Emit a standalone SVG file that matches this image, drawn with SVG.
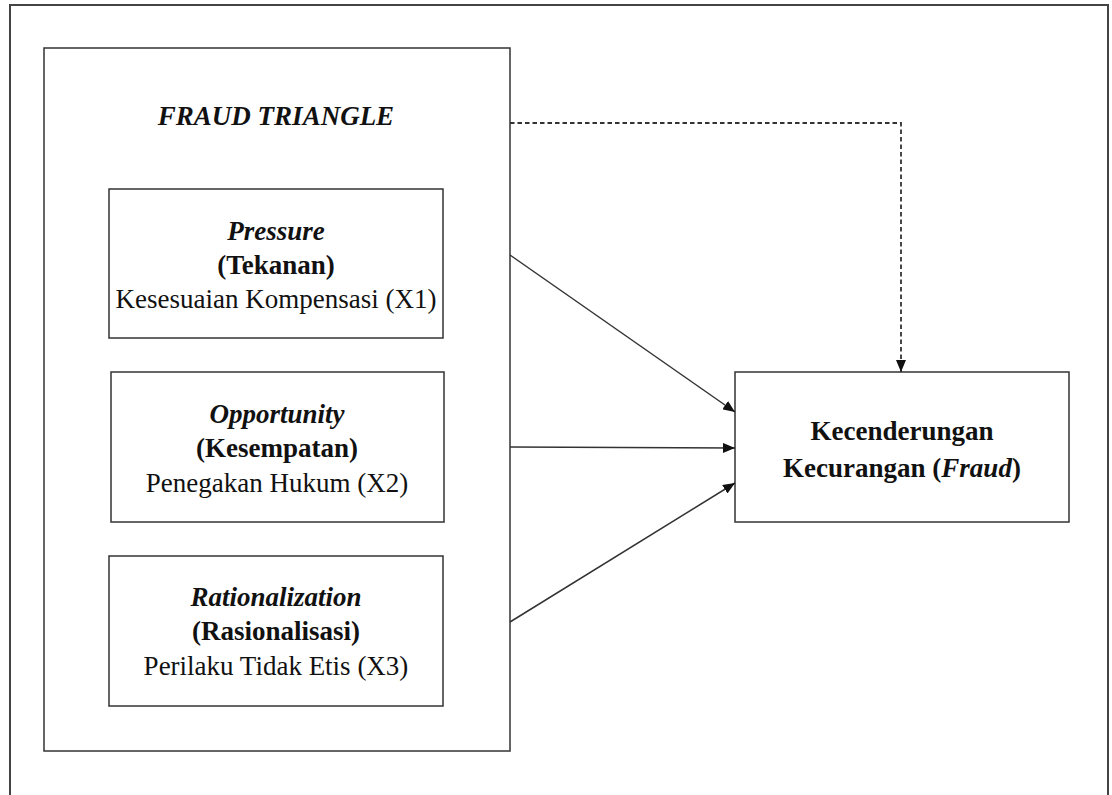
<svg xmlns="http://www.w3.org/2000/svg" width="1112" height="795" viewBox="0 0 1112 795">
<style>
.box{fill:#fff;stroke:#333;stroke-width:1.5}
.t{font-family:"Liberation Serif","Times New Roman",serif;font-size:27px;fill:#111;text-anchor:middle}
.b{font-weight:bold}
.i{font-style:italic}
.c{fill:none;stroke:#333;stroke-width:1.5}
.d{fill:none;stroke:#333;stroke-width:1.8;stroke-dasharray:4.5 3}
</style>
<defs>
<marker id="ah" markerWidth="12" markerHeight="10" refX="12" refY="5" orient="auto" markerUnits="userSpaceOnUse">
<path d="M0,0 L12,5 L0,10 Z" fill="#111"/>
</marker>
</defs>
<rect width="1112" height="795" fill="#fff"/>
<rect id="frame" x="10" y="5" width="1098" height="805" fill="none" stroke="#444" stroke-width="2"/>
<g id="fraud-triangle">
<rect class="box" x="44" y="48" width="466" height="703"/>
<text class="t b i" x="276" y="125" font-size="31">FRAUD TRIANGLE</text>
</g>
<g id="pressure">
<rect class="box" x="109" y="189" width="334" height="149"/>
<text class="t b i" x="276" y="240">Pressure</text>
<text class="t b" x="276" y="274">(Tekanan)</text>
<text class="t" x="276" y="308">Kesesuaian Kompensasi (X1)</text>
</g>
<g id="opportunity">
<rect class="box" x="111" y="372" width="333" height="150"/>
<text class="t b i" x="277" y="423">Opportunity</text>
<text class="t b" x="277" y="457">(Kesempatan)</text>
<text class="t" x="277" y="492">Penegakan Hukum (X2)</text>
</g>
<g id="rationalization">
<rect class="box" x="109" y="556" width="334" height="150"/>
<text class="t b i" x="276" y="606">Rationalization</text>
<text class="t b" x="276" y="640">(Rasionalisasi)</text>
<text class="t" x="276" y="675">Perilaku Tidak Etis (X3)</text>
</g>
<g id="kecenderungan">
<rect class="box" x="735" y="372" width="334" height="150"/>
<text class="t b" x="902" y="440">Kecenderungan</text>
<text class="t b" x="902" y="477">Kecurangan (<tspan class="i">Fraud</tspan>)</text>
</g>
<g id="connectors">
<line class="c" x1="510" y1="255" x2="735" y2="412" marker-end="url(#ah)"/>
<line class="c" x1="510" y1="447" x2="735" y2="448" marker-end="url(#ah)"/>
<line class="c" x1="510" y1="622" x2="735" y2="483" marker-end="url(#ah)"/>
<polyline class="d" points="510,123 901,123 901,372" marker-end="url(#ah)"/>
</g>
</svg>
